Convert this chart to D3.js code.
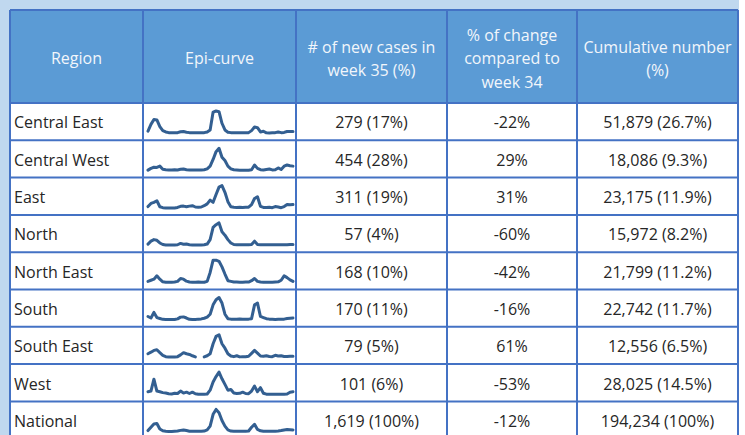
<!DOCTYPE html>
<html><head><meta charset="utf-8">
<script src="https://cdn.jsdelivr.net/npm/d3@7"></script>
<style>
html,body{margin:0;padding:0;background:#fff;}
svg{display:block;}
</style></head>
<body>
<svg id="chart" width="745" height="435"></svg>
<script>
const headers = [
  ["Region"],
  ["Epi-curve"],
  ["# of new cases in", "week 35 (%)"],
  ["% of change", "compared to", "week 34"],
  ["Cumulative number", "(%)"]
];
const regions = ["Central East","Central West","East","North","North East","South","South East","West","National"];
const newCases = ["279 (17%)","454 (28%)","311 (19%)","57 (4%)","168 (10%)","170 (11%)","79 (5%)","101 (6%)","1,619 (100%)"];
const pctChange = ["-22%","29%","31%","-60%","-42%","-16%","61%","-53%","-12%"];
const cumulative = ["51,879 (26.7%)","18,086 (9.3%)","23,175 (11.9%)","15,972 (8.2%)","21,799 (11.2%)","22,742 (11.7%)","12,556 (6.5%)","28,025 (14.5%)","194,234 (100%)"];

// epi-curve series (relative weekly cases)
const curveCentralEast = [10,40,62,60,30,12,6,3,2,2,3,7,8,5,3,2,2,2,2,3,6,15,95,100,97,45,15,5,3,2,2,2,2,2,3,12,28,25,6,9,2,1,2,3,6,3,4,8,8,8];
const curveCentralWest = [2,10,15,14,20,6,4,3,3,4,3,6,7,4,3,3,3,3,3,4,8,20,50,85,100,60,45,20,8,4,3,2,2,2,2,4,25,10,4,3,5,7,3,4,12,5,20,25,22,20];
const curveEast = [6,20,25,32,5,1,0,0,0,0,2,7,8,5,8,10,4,3,4,10,18,35,25,60,93,100,70,28,5,3,2,3,2,3,3,15,42,50,7,2,2,3,1,6,4,1,6,15,14,15];
const curveNorth = [5,18,25,22,10,3,1,1,1,1,2,8,4,5,2,1,1,1,1,2,5,25,80,92,100,60,45,25,10,3,2,2,2,2,2,3,18,3,2,2,2,2,2,2,2,2,2,2,3,3];
const curveNorthEast = [5,10,15,30,15,3,1,1,1,2,5,18,15,6,2,1,1,2,1,1,5,45,100,100,95,70,38,8,5,2,2,1,1,2,2,8,18,5,2,1,1,1,1,2,3,10,30,22,12,5];
const curveSouth = [15,8,33,10,6,2,1,1,1,1,4,12,13,8,2,1,1,3,4,7,12,25,67,90,100,75,25,5,3,3,2,4,3,2,3,5,67,75,15,10,5,3,2,1,2,2,3,6,7,8];
const curveSouthEast = [15,22,30,33,20,8,2,0,0,0,2,10,20,15,12,6,1,null,null,1,6,15,60,93,100,60,40,15,5,2,6,1,2,2,4,17,30,18,5,4,6,3,2,8,5,6,3,3,4,4];
const curveWest = [12,15,68,15,12,8,6,3,2,5,4,15,6,10,4,10,3,1,1,1,2,19,56,80,100,70,45,19,22,6,4,5,10,4,3,15,37,12,30,5,1,1,1,1,1,1,1,2,10,12];
const curveNational = [5,20,35,37,12,4,2,1,1,2,3,6,8,5,2,2,2,2,2,3,8,25,78,100,85,50,25,8,3,2,2,2,2,2,3,20,33,10,4,2,2,2,2,2,3,5,8,10,9,8];
const curves = [curveCentralEast,curveCentralWest,curveEast,curveNorth,curveNorthEast,curveSouth,curveSouthEast,curveWest,curveNational];

const svg = d3.select("#chart");
const W = 745, H = 435;
const colX = [10,143,296,447,577,738];
const tableTop = 10, headerBottom = 103, rowH = 37.3;
const border = "#4472c4";
const font = "'Open Sans', sans-serif";
const fs = 16;

// background strip
svg.append("rect").attr("x",0).attr("y",0).attr("width",739).attr("height",H).attr("fill","#c0d8ef");
svg.append("rect").attr("x",colX[0]).attr("y",tableTop).attr("width",colX[5]-colX[0]).attr("height",H-tableTop).attr("fill","#fff");
svg.append("rect").attr("x",739).attr("y",0).attr("width",W-739).attr("height",H).attr("fill","#fff");
svg.append("rect").attr("x",colX[0]).attr("y",tableTop).attr("width",colX[5]-colX[0]).attr("height",headerBottom-tableTop).attr("fill","#5b9bd5");

// header text
headers.forEach((lines,i)=>{
  const cx = (colX[i]+colX[i+1])/2;
  const cy = (tableTop+headerBottom)/2 + 3.5;
  const lh = 23.5;
  const t = svg.append("text").attr("text-anchor","middle").attr("font-family",font)
    .attr("font-size",fs).attr("fill","#f2f6fb");
  lines.forEach((l,j)=>{
    t.append("tspan").attr("x",cx).attr("y",cy + (j-(lines.length-1)/2)*lh).attr("dominant-baseline","middle").text(l);
  });
});

const rowTop = i => headerBottom + i*rowH;
const x = d3.scaleLinear().domain([0,49]).range([148,293]);

regions.forEach((r,i)=>{
  const top = rowTop(i), cy = top + rowH/2 + 2.5;
  svg.append("text").attr("x",14).attr("y",cy).attr("dominant-baseline","middle")
    .attr("font-family",font).attr("font-size",fs).attr("fill","#262626").text(r);
  [newCases[i],pctChange[i],cumulative[i]].forEach((v,k)=>{
    svg.append("text").attr("x",(colX[k+2]+colX[k+3])/2).attr("y",cy).attr("text-anchor","middle")
      .attr("dominant-baseline","middle").attr("font-family",font).attr("font-size",fs)
      .attr("fill","#262626").text(v);
  });
  const y = d3.scaleLinear().domain([0,100]).range([top+rowH-7, top+8]);
  const line = d3.line().defined(d=>d!=null).x((d,j)=>x(j)).y(d=>y(d)).curve(d3.curveLinear);
  svg.append("path").datum(curves[i]).attr("d",line).attr("fill","none")
    .attr("stroke","#335f91").attr("stroke-width",3).attr("stroke-linejoin","round").attr("stroke-linecap","round");
});

// grid lines
const g = svg.append("g").attr("stroke",border).attr("stroke-width",2);
colX.forEach(cx=>g.append("line").attr("x1",cx).attr("x2",cx).attr("y1",tableTop).attr("y2",H));
g.append("line").attr("x1",colX[0]).attr("x2",colX[5]).attr("y1",tableTop).attr("y2",tableTop);
for(let i=0;i<regions.length;i++){
  const yy = rowTop(i);
  g.append("line").attr("x1",colX[0]).attr("x2",colX[5]).attr("y1",yy).attr("y2",yy);
}
</script>
</body></html>
